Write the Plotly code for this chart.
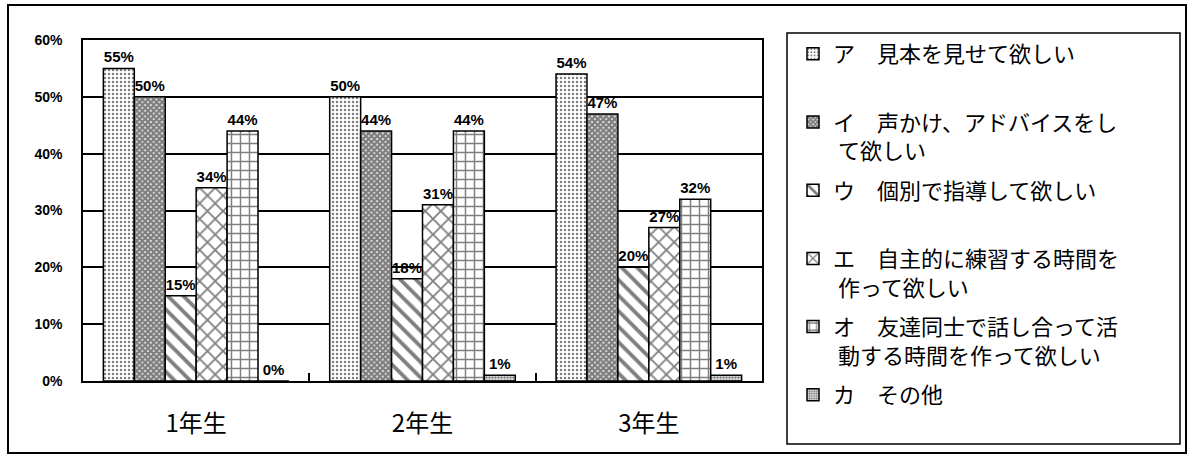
import plotly.graph_objects as go

# ---- data ----
categories = ["1年生", "2年生", "3年生"]
series_names = [
    "ア　見本を見せて欲しい<br> ",
    "イ　声かけ、アドバイスをし<br> て欲しい",
    "ウ　個別で指導して欲しい<br> ",
    "エ　自主的に練習する時間を<br> 作って欲しい",
    "オ　友達同士で話し合って活<br> 動する時間を作って欲しい",
    "カ　その他<br> ",
]
vals_a = [55, 50, 54]
vals_i = [50, 44, 47]
vals_u = [15, 18, 20]
vals_e = [34, 31, 27]
vals_o = [44, 44, 32]
vals_ka = [0, 1, 1]
series_values = [vals_a, vals_i, vals_u, vals_e, vals_o, vals_ka]
y_ticks = [0, 10, 20, 30, 40, 50, 60]
y_tick_text = ["0%", "10%", "20%", "30%", "40%", "50%", "60%"]

# ---- styles ----
patterns = [
    dict(shape=".", size=4, solidity=0.3),
    dict(shape="x", size=4, solidity=0.85),
    dict(shape="\\", size=11, solidity=0.35),
    dict(shape="x", size=11, solidity=0.3),
    dict(shape="+", size=9, solidity=0.3),
    dict(shape=".", size=3, solidity=0.6),
]

W, H = 1190, 457
L, R, T, B = 83, 762, 40, 381


def px_x(p):
    return (p - L) / (R - L)


def px_y(p):
    return (B - p) / (B - T)


fig = go.Figure()
for name, vals, pat in zip(series_names, series_values, patterns):
    fig.add_trace(go.Bar(
        x=categories, y=vals, name=name, legendgroup=name,
        marker=dict(color="white", line=dict(color="black", width=1.5),
                    pattern=dict(fgcolor="black", bgcolor="white", **pat)),
        text=[f"{v}%" for v in vals], texttemplate="%{text}", textposition="outside",
        textfont=dict(family="Liberation Sans", size=15, color="black", weight="bold"),
        constraintext="none", cliponaxis=False,
    ))

fig.update_layout(
    width=W, height=H,
    margin=dict(l=L, r=W - R, t=T, b=H - B, autoexpand=False),
    paper_bgcolor="white", plot_bgcolor="white",
    barmode="group", bargap=0.18, bargroupgap=0,
    showlegend=True,
    legend=dict(
        x=px_x(793), xanchor="left",
        y=px_y(33), yanchor="top",
        font=dict(family="Noto Sans CJK JP", size=22, color="black"),
        valign="top", tracegroupgap=8, traceorder="grouped",
        bgcolor="rgba(0,0,0,0)", borderwidth=0,
    ),
    xaxis=dict(
        categoryorder="array", categoryarray=categories,
        showline=True, mirror=True, linecolor="black", linewidth=1.5,
        ticks="inside", tickson="boundaries", ticklen=8, tickcolor="black", tickwidth=1.5,
        tickfont=dict(family="Noto Sans CJK JP", size=24, color="black"),
        ticklabelstandoff=20,
    ),
    yaxis=dict(
        range=[0, 60], tickvals=y_ticks, ticktext=y_tick_text,
        showgrid=True, gridcolor="black", gridwidth=1.5,
        showline=True, mirror=True, linecolor="black", linewidth=1.5,
        zeroline=False, ticks="",
        tickfont=dict(family="Liberation Sans", size=14, color="black", weight="bold"),
        ticklabelstandoff=16,
    ),
    shapes=[
        dict(type="rect", xref="paper", yref="paper",
             x0=px_x(8), x1=px_x(1186), y0=px_y(453), y1=px_y(5),
             line=dict(color="black", width=2)),
        dict(type="rect", xref="paper", yref="paper",
             x0=px_x(787), x1=px_x(1180), y0=px_y(444), y1=px_y(33),
             line=dict(color="black", width=1.5)),
    ],
)

try:
    fig.update_layout(legend_maxheight=440)
except ValueError:
    pass

fig.write_html("out.html")
